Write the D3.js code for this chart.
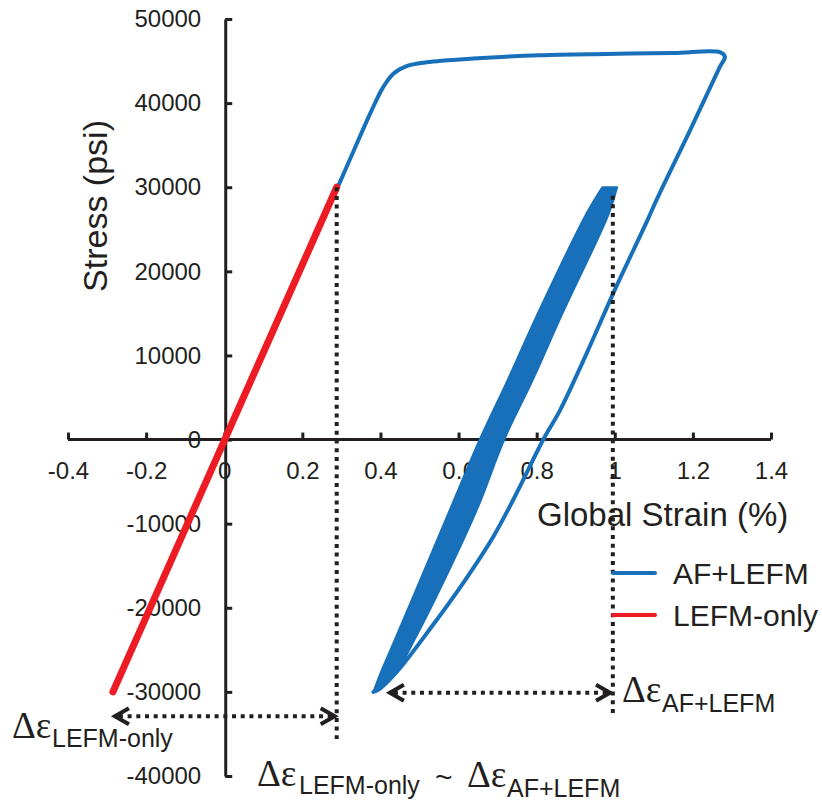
<!DOCTYPE html>
<html>
<head>
<meta charset="utf-8">
<script src="https://cdn.jsdelivr.net/npm/d3@7"></script>
<style>
  body { margin: 0; background: #fff; }
  svg { display: block; }
</style>
</head>
<body>
<div id="chart"></div>
<script>
// axis ticks
const xTicks = [-0.4, -0.2, 0, 0.2, 0.4, 0.6, 0.8, 1, 1.2, 1.4];
const xTickLabels = ['-0.4', '-0.2', '0', '0.2', '0.4', '0.6', '0.8', '1', '1.2', '1.4'];
const yTicks = [50000, 40000, 30000, 20000, 10000, 0, -10000, -20000, -30000, -40000];
const yTickLabels = ['50000', '40000', '30000', '20000', '10000', '0', '-10000', '-20000', '-30000', '-40000'];

// AF+LEFM: first load, plastic plateau, unload to -30000 psi
const outerStrain = [0, 0.30, 0.378, 0.407, 0.433, 0.467, 0.518, 0.638, 0.808, 0.979, 1.150, 1.269, 1.282, 1.269,
  1.193, 1.107, 1.082, 1.0, 0.928, 0.860, 0.817, 0.744, 0.689, 0.617, 0.531, 0.446, 0.399, 0.382];
const outerStress = [0, 31000, 39200, 41900, 43500, 44400, 44850, 45300, 45700, 45850, 45950, 46050, 45500, 44300,
  36800, 28500, 25900, 17800, 10250, 3500, 0, -6800, -11550, -16700, -22260, -27400, -29600, -30000];

// AF+LEFM: cycling band between -30000 and 30000 psi (left / right edge of the cycles)
const bandStress = [-30000, -27800, -23800, -15900, -8000, 0, 7100, 15000, 26900, 30000];
const bandLeft   = [0.382, 0.400, 0.437, 0.509, 0.581, 0.654, 0.726, 0.803, 0.928, 0.968];
const bandRight  = [0.382, 0.438, 0.487, 0.572, 0.650, 0.717, 0.790, 0.866, 0.985, 1.006];

// LEFM-only
const redStrain = [-0.285, 0.288];
const redStress = [-30000, 30000];

// annotation guides (strain, stress)
const guideV1 = { strain: 0.288, top: 30000, bottom: -35600 };
const guideV2 = { strain: 0.995, top: 29000, bottom: -33000 };
const arrow1 = { from: -0.285, to: 0.288, stress: -32900 };
const arrow2 = { from: 0.419, to: 0.993, stress: -30100 };

const seriesNames = ['AF+LEFM', 'LEFM-only'];
const blue = '#1770b9';
const red = '#ed1c24';
const ink = '#231f20';

const width = 822, height = 803;
const svg = d3.select('#chart').append('svg')
  .attr('width', width)
  .attr('height', height)
  .style('background', '#fff');

const x = d3.scaleLinear().domain([-0.4, 1.4]).range([68, 771]);
const y = d3.scaleLinear().domain([-40000, 50000]).range([776, 19]);

const sans = 'Liberation Sans, Arial, Helvetica, sans-serif';
const serif = 'Liberation Serif, Times New Roman, serif';

// axes
const xAxis = d3.axisBottom(x)
  .tickValues(xTicks)
  .tickFormat((d, i) => xTickLabels[i])
  .tickSizeInner(-7)
  .tickSizeOuter(0)
  .tickPadding(22);

const yAxis = d3.axisLeft(y)
  .tickValues(yTicks)
  .tickFormat((d, i) => yTickLabels[i])
  .tickSizeInner(-7)
  .tickSizeOuter(0)
  .tickPadding(24);

const gx = svg.append('g')
  .attr('transform', `translate(0,${y(0)})`)
  .call(xAxis);
const gy = svg.append('g')
  .attr('transform', `translate(${x(0) + 1},0)`)
  .call(yAxis);

[gx, gy].forEach(g => {
  g.selectAll('path, line').attr('stroke', ink).attr('stroke-width', 3);
  g.selectAll('text')
    .attr('fill', ink)
    .style('font-family', sans)
    .style('font-size', '24px');
});
gx.select('.domain').attr('d', `M${x(-0.4)},0H${x(1.4)}`);

// axis titles
svg.append('text')
  .attr('transform', `translate(107,206) rotate(-90)`)
  .attr('text-anchor', 'middle')
  .attr('fill', ink)
  .style('font-family', sans)
  .style('font-size', '34px')
  .text('Stress (psi)');

svg.append('text')
  .attr('x', 537)
  .attr('y', 526)
  .attr('fill', ink)
  .style('font-family', sans)
  .style('font-size', '33px')
  .text('Global Strain (%)');

// AF+LEFM outer loop
const outerPts = outerStrain.map((s, i) => [s, outerStress[i]]);
svg.append('path')
  .datum(outerPts)
  .attr('fill', 'none')
  .attr('stroke', blue)
  .attr('stroke-width', 4)
  .attr('stroke-linejoin', 'round')
  .attr('stroke-linecap', 'round')
  .attr('d', d3.line().x(d => x(d[0])).y(d => y(d[1])).curve(d3.curveCatmullRom.alpha(0.5)));

// AF+LEFM cycling band
const bandPts = bandStress.map((s, i) => ({ s, l: bandLeft[i], r: bandRight[i] }));
svg.append('path')
  .datum(bandPts)
  .attr('fill', blue)
  .attr('stroke', blue)
  .attr('stroke-width', 2)
  .attr('stroke-linejoin', 'round')
  .attr('d', d3.area()
    .y(d => y(d.s))
    .x0(d => x(d.l))
    .x1(d => x(d.r))
    .curve(d3.curveCatmullRom.alpha(0.5)));

// LEFM-only
svg.append('path')
  .datum(redStrain.map((s, i) => [s, redStress[i]]))
  .attr('fill', 'none')
  .attr('stroke', red)
  .attr('stroke-width', 7)
  .attr('stroke-linecap', 'round')
  .attr('d', d3.line().x(d => x(d[0])).y(d => y(d[1])));

// dotted guides
const dots = g => g.attr('stroke', ink).attr('stroke-width', 4).attr('stroke-dasharray', '4,4.7').attr('fill', 'none');
[guideV1, guideV2].forEach(gd => {
  svg.append('line')
    .attr('x1', x(gd.strain)).attr('x2', x(gd.strain))
    .attr('y1', y(gd.top)).attr('y2', y(gd.bottom))
    .call(dots);
});

[arrow1, arrow2].forEach(a => {
  const x0 = x(a.from), x1 = x(a.to), yy = y(a.stress);
  svg.append('line')
    .attr('x1', x0 + 6).attr('x2', x1 - 4)
    .attr('y1', yy).attr('y2', yy)
    .call(dots);
  const head = d3.line();
  svg.append('path')
    .attr('d', head([[x0 + 16, yy - 8], [x0 + 2, yy], [x0 + 16, yy + 8]]))
    .attr('fill', 'none').attr('stroke', ink).attr('stroke-width', 4).attr('stroke-linejoin', 'miter');
  svg.append('path')
    .attr('d', head([[x1 - 16, yy - 8], [x1 - 2, yy], [x1 - 16, yy + 8]]))
    .attr('fill', 'none').attr('stroke', ink).attr('stroke-width', 4).attr('stroke-linejoin', 'miter');
});

// delta-epsilon labels
function deltaEps(px, py, sub, subX, subY) {
  svg.append('text')
    .attr('x', px).attr('y', py)
    .attr('fill', ink)
    .style('font-family', serif)
    .style('font-size', '37px')
    .text('\u0394\u03b5');
  svg.append('text')
    .attr('x', subX).attr('y', subY)
    .attr('fill', ink)
    .style('font-family', sans)
    .style('font-size', '25px')
    .text(sub);
}
deltaEps(12, 738, 'LEFM-only', 52, 747);
deltaEps(622, 702, 'AF+LEFM', 662, 712);
deltaEps(257, 786, 'LEFM-only', 299, 794);
svg.append('text')
  .attr('x', 435).attr('y', 787)
  .attr('fill', ink)
  .style('font-family', sans)
  .style('font-size', '30px')
  .text('~');
deltaEps(467, 787, 'AF+LEFM', 507, 797);

// legend
const legend = svg.append('g');
seriesNames.forEach((name, i) => {
  const ly = 573 + i * 42;
  legend.append('line')
    .attr('x1', 613).attr('x2', 655)
    .attr('y1', ly).attr('y2', ly)
    .attr('stroke', i === 0 ? blue : red)
    .attr('stroke-width', 4)
    .attr('stroke-linecap', 'round');
  legend.append('text')
    .attr('x', 673).attr('y', ly + 11)
    .attr('fill', ink)
    .style('font-family', sans)
    .style('font-size', '30px')
    .text(name);
});
</script>
</body>
</html>
